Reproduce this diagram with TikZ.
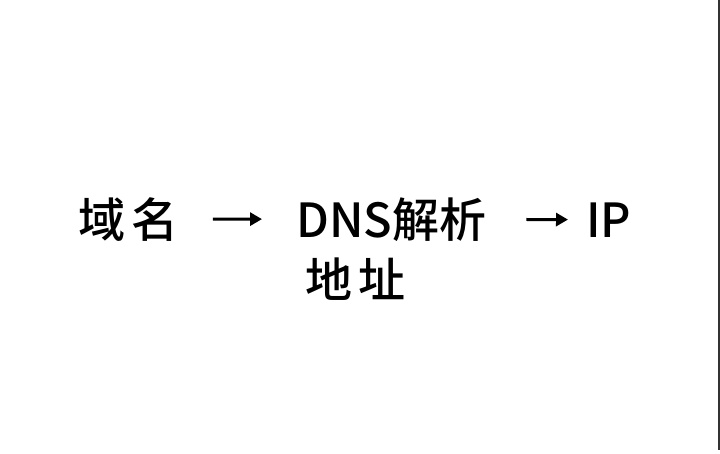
\documentclass[tikz,border=0pt]{standalone}
\usepackage{fontspec}
\newfontfamily\cjk[UprightFont=* Medium]{Noto Sans CJK SC}
\newfontfamily\cjkwide[UprightFont=* Medium,LetterSpace=14]{Noto Sans CJK SC}
\usepackage{tikz}
\usetikzlibrary {arrows.meta}

\begin{document}
\begin{tikzpicture}[x=1pt,y=1pt,
        word/.style={inner sep=0pt,anchor=base west,font=\cjk\fontsize{47}{61}\selectfont},
        wideword/.style={word,font=\cjkwide\fontsize{47}{61}\selectfont},
        arrowline/.style={line width=3pt,-{Triangle[length=12pt,width=13pt]}}]
        \useasboundingbox (0,0) rectangle (720,-453);%画布
        \fill[white] (0,0) rectangle (720,-453);

        \node[wideword] (domain) at (78,-237) {域名};
        \node[word] (dns) at (296,-237) {DNS解析};
        \node[word] (ip) at (586,-237) {IP};
        \node[wideword] (addr) at (305,-297) {地址};

        \draw[arrowline,shorten <=34pt,shorten >=34pt](domain)--(dns);%第一个箭头
        \draw[arrowline,shorten <=40pt,shorten >=18pt](dns)--(ip);%第二个箭头

        \draw[line width=1.5pt,black!80](719,0)--(719,-450);%右边线
      \end{tikzpicture}
\end{document}
